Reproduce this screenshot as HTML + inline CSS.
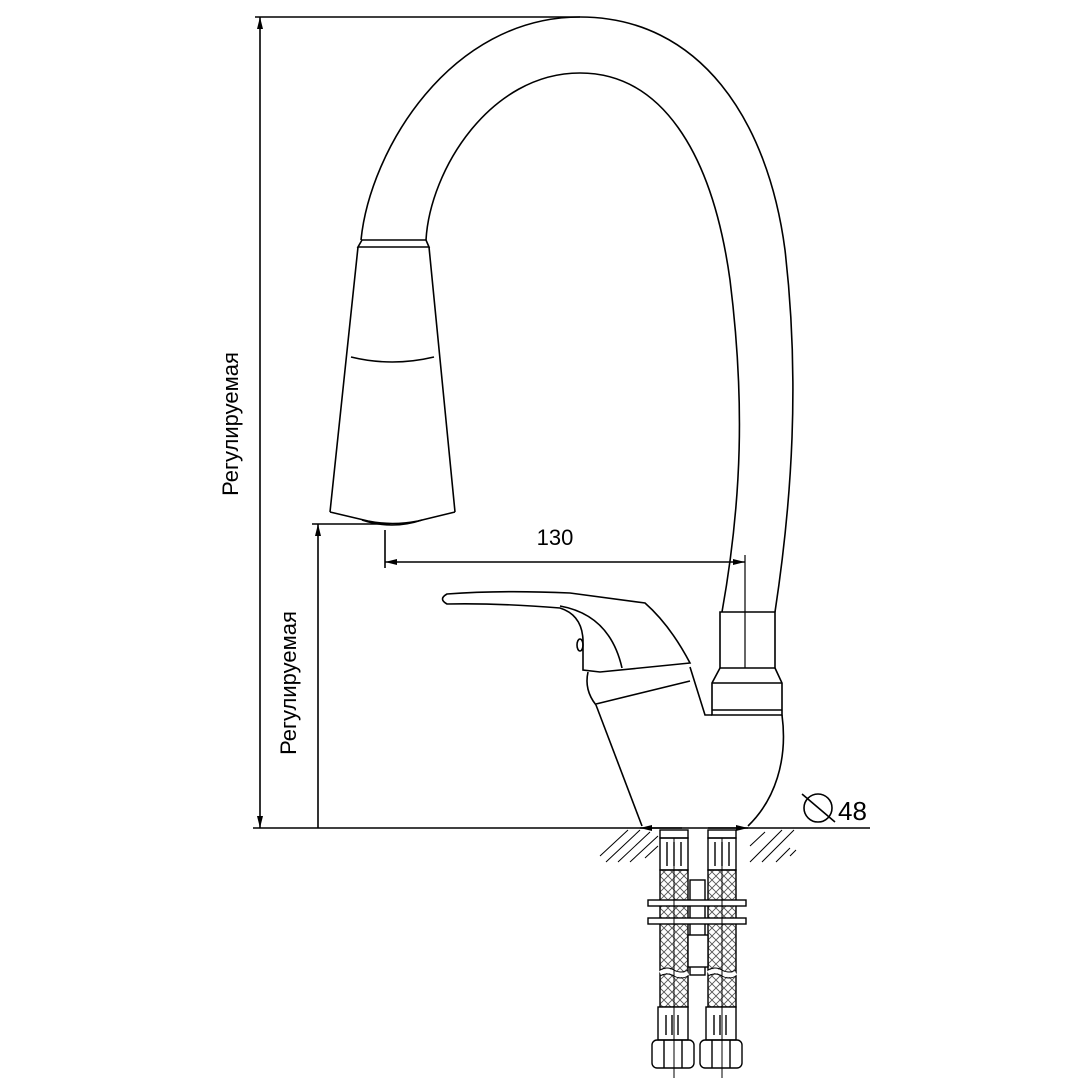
<!DOCTYPE html>
<html><head><meta charset="utf-8"><style>html,body{margin:0;padding:0;background:#fff}</style></head><body>
<svg width="1080" height="1080" viewBox="0 0 1080 1080" xmlns="http://www.w3.org/2000/svg" font-family="Liberation Sans, sans-serif">
<defs>
<marker id="a" viewBox="0 0 12 6" refX="12" refY="3" markerWidth="12" markerHeight="6" orient="auto-start-reverse" markerUnits="userSpaceOnUse"><path d="M0,0 L12,3 L0,6 z" fill="#000"/></marker>
<pattern id="h" width="8" height="8" patternUnits="userSpaceOnUse"><path d="M0,0 L8,8 M8,0 L0,8" stroke="#555" stroke-width="0.9"/></pattern>
</defs>
<g fill="none" stroke="#000" stroke-width="1.6">
<path d="M361,240 C370,150 450,17 580,17 C700,17 768,120 785,250 C800,380 792,500 775,612"/>
<path d="M426,240 C430,170 490,73 580,73 C660,73 712,150 730,280 C745,400 742,500 722,612"/>
<path d="M362,240 L426,240 L429,247 L358,247 Z"/>
<path d="M358,247 L330,512 M429,247 L455,512"/>
<path d="M351,357 Q392,367 434,357"/>
<path d="M330,512 L368,521 Q392,526 418,521 L455,512"/>
<path d="M362,520 Q392,530 422,520"/>
<line x1="255" y1="17" x2="580" y2="17"/>
<line x1="260" y1="17" x2="260" y2="828" marker-start="url(#a)" marker-end="url(#a)"/>
<line x1="253" y1="828" x2="600" y2="828"/>
<line x1="312" y1="524" x2="390" y2="524"/>
<line x1="318" y1="524" x2="318" y2="828" marker-start="url(#a)"/>
<line x1="385" y1="530" x2="385" y2="568"/>
<line x1="385" y1="562" x2="745" y2="562" marker-start="url(#a)" marker-end="url(#a)"/>
<line x1="745" y1="555" x2="745" y2="668" stroke-width="1.2"/>
<path d="M720,612 L775,612 L775,668 L720,668 Z"/>
<path d="M720,668 L712,683 L712,715 L782,715 L782,683 L775,668"/>
<line x1="712" y1="683" x2="782" y2="683"/>
<line x1="712" y1="710" x2="782" y2="710"/>
<path d="M596,705 L642,826"/>
<path d="M782,715 C788,760 775,800 748,826"/>
<path d="M588,672 Q584,690 596,705"/>
<path d="M596,704 L690,681"/>
<path d="M690,667 L705,715 L712,715"/>
<path d="M447,594 Q500,590 570,593 L645,603 Q670,625 690,663 L600,672 L583,670 L583,640 Q582,615 560,608 Q500,603 447,604 Q438,599 447,594 Z"/>
<path d="M560,606 Q610,615 622,668"/>
<ellipse cx="580" cy="645" rx="3" ry="6"/>
<line x1="600" y1="828" x2="870" y2="828"/>
<line x1="640" y1="828" x2="682" y2="828" marker-start="url(#a)"/>
<line x1="708" y1="828" x2="748" y2="828" marker-end="url(#a)"/>
<circle cx="818" cy="808" r="14"/>
<line x1="802" y1="794" x2="835" y2="822"/>
</g>
<g stroke="#000" stroke-width="1" fill="none">
<path d="M600,856 L628,830 M606,862 L640,830 M618,862 L650,832 M630,862 L658,836 M645,858 L658,846 M750,862 L782,830 M762,862 L794,830 M776,862 L790,848 M750,846 L765,832 M790,856 L796,850"/>
</g>
<g stroke="#000" stroke-width="1.4" fill="none">
<rect x="660" y="830" width="28" height="8"/><rect x="708" y="830" width="28" height="8"/>
<rect x="660" y="838" width="28" height="32"/><rect x="708" y="838" width="28" height="32"/>
<path d="M667,842v24M674,842v24M681,842v24M715,842v24M722,842v24M729,842v24"/>
<rect x="660" y="870" width="28" height="137" fill="url(#h)"/>
<rect x="708" y="870" width="28" height="137" fill="url(#h)"/>
<path d="M660,973 q7,-4 14,0 t14,0 M708,973 q7,-4 14,0 t14,0" stroke="#fff" stroke-width="4"/>
<path d="M660,970 q7,-4 14,0 t14,0 M708,970 q7,-4 14,0 t14,0 M660,976 q7,-4 14,0 t14,0 M708,976 q7,-4 14,0 t14,0" stroke-width="1"/>
<rect x="690" y="880" width="15" height="95" fill="#fff"/>
<rect x="648" y="900" width="98" height="6" fill="#fff"/>
<rect x="648" y="918" width="98" height="6" fill="#fff"/>
<rect x="688" y="935" width="20" height="32" fill="#fff"/>
<rect x="658" y="1007" width="30" height="33" fill="#fff"/><rect x="706" y="1007" width="30" height="33" fill="#fff"/>
<path d="M666,1015v20M672,1015v20M678,1015v20M714,1015v20M720,1015v20M726,1015v20"/>
<rect x="652" y="1040" width="42" height="28" rx="5"/><rect x="700" y="1040" width="42" height="28" rx="5"/>
<path d="M664,1040v28M682,1040v28M712,1040v28M730,1040v28"/>
<path d="M674,838v240M722,838v240" stroke-width="1"/>
</g>
<text x="0" y="0" font-size="22" text-anchor="middle" transform="translate(238,424) rotate(-90)">Регулируемая</text>
<text x="0" y="0" font-size="22" text-anchor="middle" transform="translate(296,683) rotate(-90)">Регулируемая</text>
<text x="555" y="545" font-size="22" text-anchor="middle">130</text>
<text x="838" y="820" font-size="26">48</text>
</svg>
</body></html>
